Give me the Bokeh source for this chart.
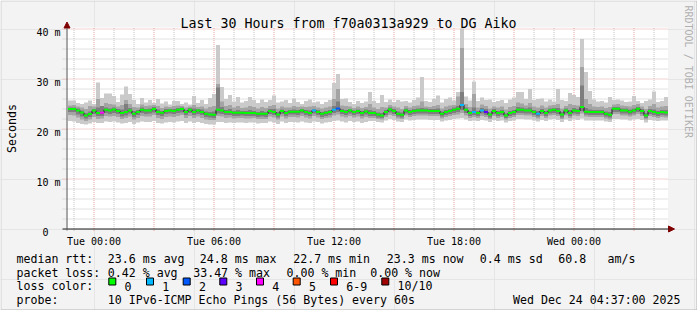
from math import pi
from bokeh.plotting import figure
from bokeh.models import Range1d, Arrow, NormalHead, ColumnDataSource
from bokeh.core.properties import value
from bokeh.embed import file_html
from bokeh.resources import INLINE

# ---------------- data ----------------
T0 = -1.3          # left edge of the graph, hours relative to Tue 00:00
BIN = 0.2          # hours per column (12 min)
SPAN = 30.0        # hours shown
YMAX = 40.0        # upper limit (ms)

# median rtt per column (ms)
med = [
    24.0, 24.0, 23.7, 23.3, 22.7, 23.0, 23.7, 23.2, 23.25, 23.85,
    23.7, 23.9, 23.6, 23.2, 23.4, 23.7, 23.05, 23.4, 23.85, 23.7,
    23.7, 24.0, 23.4, 23.25, 23.6, 23.7, 23.6, 23.85, 24.0, 23.4,
    23.85, 23.4, 23.7, 23.4, 23.05, 22.9, 22.85, 23.85, 23.7, 23.4,
    23.4, 23.25, 23.25, 23.25, 23.2, 23.2, 23.2, 23.05, 23.05, 23.05,
    23.6, 23.4, 22.9, 23.6, 23.2, 23.45, 23.45, 23.45, 23.7, 23.4,
    23.2, 23.7, 23.4, 23.05, 23.25, 23.4, 23.85, 24.1, 23.6, 23.4,
    23.7, 23.4, 23.6, 23.2, 23.5, 23.2, 23.2, 22.9, 22.7, 23.4,
    23.9, 23.6, 23.05, 22.85, 23.7, 23.4, 23.6, 23.7, 23.7, 23.7,
    23.6, 23.6, 23.6, 23.05, 23.4, 23.6, 23.85, 24.05, 24.8, 23.85,
    23.2, 23.4, 23.2, 23.7, 23.4, 22.9, 23.6, 23.2, 23.4, 22.7,
    23.2, 23.4, 23.85, 23.85, 23.7, 23.7, 23.4, 23.05, 23.6, 23.2,
    23.7, 23.85, 23.6, 22.9, 23.7, 23.2, 23.7, 23.6, 24.4, 23.45,
    23.4, 23.4, 23.4, 23.4, 23.05, 22.85, 24.05, 24.05, 23.7, 23.7,
    23.45, 23.7, 24.05, 23.6, 22.7, 23.6, 23.4, 23.2, 23.4, 23.3,
]

# smoke: highest ping per column (ms)
smax = [
    25.7, 25.7, 25.2, 25.0, 25.3, 25.7, 25.0, 29.3, 26.2, 27.1,
    27.1, 26.6, 25.4, 26.9, 28.5, 27.0, 25.8, 25.0, 26.2, 25.3,
    25.8, 25.2, 26.0, 25.1, 25.5, 24.9, 25.6, 25.6, 25.0, 25.3,
    24.9, 26.6, 25.2, 25.8, 25.0, 26.2, 27.0, 36.8, 28.4, 26.0,
    26.8, 25.5, 26.4, 25.3, 25.6, 26.4, 25.8, 25.2, 25.9, 25.4,
    25.8, 26.7, 25.3, 25.5, 25.8, 25.2, 26.1, 25.4, 25.0, 25.6,
    25.9, 25.3, 25.5, 25.0, 25.4, 25.8, 29.2, 31.0, 26.0, 26.1,
    25.4, 25.0, 25.6, 25.2, 25.5, 27.4, 25.6, 25.2, 26.8, 25.4,
    25.9, 25.4, 25.8, 25.5, 25.6, 25.3, 25.8, 26.3, 30.4, 25.6,
    25.4, 26.0, 26.7, 25.3, 26.0, 26.3, 25.7, 27.4, 40.1, 26.5,
    25.7, 29.5, 25.6, 26.3, 25.8, 25.9, 25.4, 25.6, 25.8, 25.2,
    25.9, 26.3, 27.4, 27.4, 26.0, 28.0, 25.8, 26.0, 26.1, 25.5,
    25.9, 25.5, 28.0, 25.8, 25.6, 27.2, 26.8, 26.4, 38.0, 31.4,
    27.6, 25.9, 25.5, 25.6, 25.3, 26.4, 25.8, 25.9, 25.7, 25.4,
    25.5, 26.6, 25.6, 25.2, 25.6, 25.9, 27.5, 25.4, 25.6, 26.4,
]

# smoke: upper edge of the middle band (ms)
shi = [
    24.7, 24.8, 24.5, 24.3, 24.0, 24.6, 24.5, 26.0, 24.6, 25.2,
    25.0, 24.9, 24.5, 24.8, 25.8, 25.0, 24.4, 24.3, 24.9, 24.6,
    24.7, 24.8, 24.6, 24.2, 24.5, 24.4, 24.6, 24.7, 24.6, 24.3,
    24.5, 24.8, 24.4, 24.5, 24.1, 24.4, 24.6, 29.0, 25.5, 24.6,
    24.8, 24.3, 24.6, 24.2, 24.3, 24.6, 24.4, 24.1, 24.4, 24.2,
    24.6, 24.8, 24.1, 24.5, 24.3, 24.3, 24.6, 24.4, 24.5, 24.4,
    24.5, 24.6, 24.3, 24.1, 24.3, 24.5, 26.0, 28.0, 24.7, 24.6,
    24.5, 24.2, 24.5, 24.2, 24.4, 25.0, 24.3, 24.0, 24.4, 24.3,
    24.8, 24.5, 24.3, 24.0, 24.6, 24.3, 24.6, 24.7, 25.5, 24.5,
    24.4, 24.6, 24.8, 24.1, 24.5, 24.7, 24.8, 26.5, 36.2, 25.0,
    24.4, 27.0, 24.3, 24.9, 24.6, 24.1, 24.5, 24.3, 24.5, 23.9,
    24.4, 24.6, 25.3, 25.1, 24.7, 25.2, 24.5, 24.3, 24.7, 24.3,
    24.7, 24.8, 25.0, 24.1, 24.6, 25.0, 24.8, 24.7, 32.4, 26.0,
    25.0, 24.5, 24.4, 24.5, 24.2, 24.4, 24.9, 25.0, 24.7, 24.6,
    24.5, 24.8, 25.0, 24.5, 24.0, 24.6, 25.0, 24.3, 24.5, 24.6,
]

# smoke: lower edge of the middle band (ms)
slo = [
    22.8, 22.7, 22.3, 21.9, 21.6, 21.9, 22.4, 22.0, 22.1, 22.6,
    22.5, 22.6, 22.4, 22.0, 22.2, 22.5, 21.9, 22.2, 22.6, 22.5,
    22.5, 22.8, 22.2, 22.0, 22.4, 22.5, 22.4, 22.6, 22.8, 22.2,
    22.6, 22.2, 22.5, 22.2, 21.9, 21.8, 21.8, 22.6, 22.5, 22.2,
    22.3, 22.1, 22.2, 22.2, 22.1, 22.1, 22.2, 22.0, 22.0, 22.0,
    22.5, 22.3, 21.9, 22.5, 22.1, 22.4, 22.4, 22.3, 22.6, 22.3,
    22.1, 22.6, 22.3, 22.0, 22.2, 22.3, 22.7, 22.9, 22.5, 22.3,
    22.6, 22.3, 22.5, 22.1, 22.4, 22.2, 22.2, 22.0, 21.9, 22.4,
    22.8, 22.6, 22.1, 22.0, 22.7, 22.4, 22.6, 22.7, 22.7, 22.7,
    22.6, 22.6, 22.6, 22.1, 22.4, 22.6, 22.8, 22.9, 23.2, 22.7,
    22.2, 22.4, 22.2, 22.6, 22.4, 22.0, 22.6, 22.2, 22.4, 21.9,
    22.2, 22.4, 22.8, 22.8, 22.7, 22.7, 22.4, 22.1, 22.6, 22.2,
    22.7, 22.8, 22.6, 22.0, 22.7, 22.2, 22.7, 22.6, 23.1, 22.5,
    22.4, 22.4, 22.4, 22.4, 22.1, 21.9, 23.0, 23.0, 22.7, 22.7,
    22.5, 22.7, 23.0, 22.6, 21.9, 22.6, 22.4, 22.2, 22.4, 22.3,
]

# smoke: lowest ping per column (ms)
smin = [
    21.6, 21.5, 21.2, 21.0, 20.9, 21.1, 21.4, 21.2, 21.2, 21.5,
    21.4, 21.5, 21.3, 21.1, 21.2, 21.4, 21.0, 21.3, 21.5, 21.4,
    21.4, 21.6, 21.2, 21.1, 21.3, 21.4, 21.3, 21.5, 21.6, 21.2,
    21.5, 21.2, 21.4, 21.2, 21.0, 20.9, 20.9, 21.4, 21.4, 21.2,
    21.3, 21.2, 21.3, 21.3, 21.2, 21.3, 21.3, 21.1, 21.2, 21.2,
    21.5, 21.3, 21.0, 21.5, 21.2, 21.4, 21.4, 21.3, 21.5, 21.3,
    21.2, 21.5, 21.4, 21.1, 21.3, 21.4, 21.6, 21.7, 21.5, 21.3,
    21.6, 21.4, 21.5, 21.2, 21.4, 21.6, 21.6, 21.4, 21.3, 21.7,
    22.0, 21.8, 21.5, 21.4, 21.9, 21.7, 21.8, 21.9, 21.9, 21.9,
    21.8, 21.8, 21.8, 21.5, 21.7, 21.8, 22.0, 22.1, 22.2, 21.9,
    21.6, 21.7, 21.6, 21.8, 21.7, 21.4, 21.8, 21.6, 21.7, 21.3,
    21.6, 21.7, 22.0, 22.0, 21.9, 21.9, 21.7, 21.5, 21.8, 21.6,
    21.9, 22.0, 21.8, 21.4, 21.9, 21.6, 21.9, 21.8, 22.1, 21.7,
    21.7, 21.7, 21.7, 21.7, 21.5, 21.4, 22.0, 22.0, 21.9, 21.9,
    21.7, 21.9, 22.0, 21.8, 21.3, 21.8, 21.7, 21.6, 21.7, 21.7,
]

# smoke: dark core around the median (ms)
dhi = [
    24.3, 24.3, 24.1, 23.7, 23.2, 23.5, 24.0, 24.3, 24.6, 24.3,
    24.1, 24.3, 24.0, 23.9, 25.0, 24.2, 23.6, 23.8, 24.3, 24.0,
    24.1, 24.4, 23.9, 23.6, 24.0, 24.0, 24.0, 24.2, 24.3, 23.8,
    24.2, 24.1, 24.0, 23.9, 23.5, 23.4, 23.5, 28.3, 24.4, 23.8,
    24.0, 23.6, 23.8, 23.6, 23.6, 23.8, 23.6, 23.4, 23.6, 23.4,
    24.0, 24.0, 23.4, 23.9, 23.6, 23.8, 23.9, 23.8, 24.0, 23.8,
    23.7, 24.0, 23.8, 23.4, 23.6, 23.8, 24.6, 25.5, 24.0, 23.8,
    24.0, 23.7, 23.9, 23.6, 23.9, 23.8, 23.6, 23.3, 23.2, 23.8,
    24.3, 24.0, 23.5, 23.3, 24.1, 23.8, 24.0, 24.1, 24.2, 24.1,
    24.0, 24.0, 24.1, 23.5, 23.8, 24.0, 24.3, 24.6, 27.4, 24.3,
    23.6, 24.3, 23.6, 24.2, 24.0, 23.3, 24.0, 23.6, 23.8, 23.1,
    23.6, 23.8, 24.4, 24.3, 24.1, 24.3, 23.8, 23.6, 24.0, 23.6,
    24.1, 24.2, 24.2, 23.4, 24.1, 23.8, 24.2, 24.0, 28.7, 24.2,
    23.9, 23.8, 23.8, 23.8, 23.5, 23.4, 24.4, 24.4, 24.1, 24.1,
    23.9, 24.1, 24.4, 24.0, 23.2, 24.0, 23.9, 23.6, 23.8, 23.8,
]
dlo = [
    23.4, 23.4, 22.9, 22.5, 22.1, 22.4, 23.0, 22.6, 22.6, 23.2,
    23.0, 23.2, 23.0, 22.5, 22.7, 23.1, 22.4, 22.8, 23.2, 23.0,
    23.1, 23.3, 22.8, 22.6, 23.0, 23.1, 23.0, 23.2, 23.3, 22.8,
    23.2, 22.8, 23.0, 22.8, 22.4, 22.3, 22.2, 23.1, 23.0, 22.8,
    22.8, 22.6, 22.6, 22.7, 22.6, 22.6, 22.6, 22.4, 22.5, 22.4,
    23.0, 22.8, 22.3, 23.0, 22.6, 22.9, 22.9, 22.8, 23.1, 22.8,
    22.6, 23.1, 22.8, 22.4, 22.6, 22.8, 23.2, 23.4, 23.0, 22.8,
    23.1, 22.8, 23.0, 22.6, 22.9, 22.6, 22.6, 22.3, 22.2, 22.8,
    23.3, 23.0, 22.5, 22.3, 23.1, 22.8, 23.0, 23.1, 23.1, 23.1,
    23.0, 23.0, 23.0, 22.5, 22.8, 23.0, 23.2, 23.4, 23.8, 23.2,
    22.6, 22.8, 22.6, 23.1, 22.8, 22.3, 23.0, 22.6, 22.8, 22.2,
    22.6, 22.8, 23.2, 23.2, 23.1, 23.1, 22.8, 22.5, 23.0, 22.6,
    23.1, 23.2, 23.0, 22.3, 23.1, 22.6, 23.1, 23.0, 23.6, 22.9,
    22.8, 22.8, 22.8, 22.8, 22.5, 22.3, 23.4, 23.4, 23.1, 23.1,
    22.9, 23.1, 23.4, 23.0, 22.2, 23.0, 22.8, 22.6, 22.8, 22.7,
]

# lost pings (out of 10) per column
loss = [
    0, 0, 0, 0, 0, 0, 0, 0, 4, 0,
    0, 0, 0, 0, 0, 0, 0, 0, 0, 0,
    0, 0, 0, 0, 0, 0, 0, 0, 0, 0,
    0, 0, 0, 0, 0, 0, 0, 0, 0, 0,
    0, 0, 0, 0, 0, 0, 0, 0, 0, 0,
    0, 0, 0, 0, 0, 0, 0, 0, 0, 0,
    0, 1, 0, 0, 0, 0, 1, 2, 0, 0,
    0, 0, 0, 0, 0, 0, 0, 0, 0, 0,
    0, 0, 0, 0, 0, 0, 0, 0, 0, 0,
    0, 0, 0, 0, 0, 0, 0, 0, 1, 0,
    0, 1, 0, 1, 3, 0, 0, 0, 0, 0,
    0, 0, 0, 0, 0, 0, 0, 1, 0, 0,
    0, 0, 0, 0, 0, 0, 0, 0, 0, 0,
    0, 0, 0, 0, 0, 0, 0, 0, 0, 0,
    0, 0, 0, 0, 0, 0, 0, 0, 0, 0,
]

loss_labels = ["0", "1", "2", "3", "4", "5", "6-9", "10/10"]
loss_colors = ["#00ff00", "#00b8ff", "#0059ff", "#5e00ff",
               "#ff00ff", "#ff5500", "#ff0000", "#a10000"]

y_ticks = [0, 10, 20, 30, 40]
y_minor = [2, 4, 6, 8, 12, 14, 16, 18, 22, 24, 26, 28, 32, 34, 36, 38]
y_labels = ["0\u00a0\u00a0", "10 m", "20 m", "30 m", "40 m"]
x_major = [0, 3, 6, 9, 12, 15, 18, 21, 24, 27]
x_minor = [-1, 1, 2, 4, 5, 7, 8, 10, 11, 13, 14, 16, 17, 19, 20, 22, 23, 25, 26, 28]
x_label_ticks = [0, 6, 12, 18, 24]
x_labels = ["Tue 00:00", "Tue 06:00", "Tue 12:00", "Tue 18:00", "Wed 00:00"]

title = "Last 30 Hours from f70a0313a929 to DG Aiko"
y_title = "Seconds"
brand = "RRDTOOL / TOBI OETIKER"
row1 = ["median rtt:", "23.6 ms avg", "24.8 ms max", "22.7 ms min",
        "23.3 ms now", "0.4 ms sd", "60.8", "am/s"]
row2 = ["packet loss:", "0.42 % avg", "33.47 % max", "0.00 % min", "0.00 % now"]
row3 = "loss color:"
row4 = ["probe:", "10 IPv6-ICMP Echo Pings (56 Bytes) every 60s"]
stamp = "Wed Dec 24 04:37:00 2025"

# ---------------- layout (canvas pixels) ----------------
W, H = 697, 310
PX_H = 20.0        # pixels per hour
PX_MS = 5.0        # pixels per ms
GL = 67            # graph left edge (px)
ZERO = 228.5       # pixel row centre of the 0 ms line
XS = T0 - (GL + 0.5) / PX_H
XE = XS + W / PX_H
YE = ZERO / PX_MS
YS = YE - H / PX_MS


def X(cx):
    return XS + cx / PX_H


def Y(cy):
    return (ZERO - cy) / PX_MS


p = figure(width=W, height=H, output_backend="svg", toolbar_location=None,
           x_range=Range1d(XS, XE), y_range=Range1d(YS, YE),
           x_axis_location=None, y_axis_location=None, min_border=0,
           background_fill_color="#f3f3f3", border_fill_color="#f3f3f3")
p.outline_line_color = None

MONO = value("DejaVu Sans Mono")
MINOR_C = "#c4c4c4"
MAJOR_C = "#e6a4a4"

# white canvas of the graph
p.quad(left=[T0], right=[T0 + SPAN], bottom=[0], top=[Y(27)],
       fill_color="white", line_color=None)

# grid
p.segment(x0=[X(62)] * len(y_minor), x1=[T0 + SPAN] * len(y_minor),
          y0=y_minor, y1=y_minor, line_color=MINOR_C, line_dash="1 1", line_width=1)
p.segment(x0=x_minor, x1=x_minor, y0=[Y(230.5)] * len(x_minor),
          y1=[Y(27)] * len(x_minor), line_color=MINOR_C, line_dash="1 1", line_width=1)
p.segment(x0=[X(62)] * 4, x1=[T0 + SPAN] * 4, y0=y_ticks[1:], y1=y_ticks[1:],
          line_color=MAJOR_C, line_dash="1 1", line_width=1)
p.segment(x0=x_major, x1=x_major, y0=[Y(230.5)] * len(x_major),
          y1=[Y(27)] * len(x_major), line_color=MAJOR_C, line_dash="1 1", line_width=1)

# smoke
n = len(med)
left = [T0 + BIN * i for i in range(n)]
right = [l + BIN for l in left]
center = [l + BIN / 2 for l in left]


def lc(k):
    if k <= 5:
        return loss_colors[k]
    if k < 10:
        return loss_colors[6]
    return loss_colors[7]


src = ColumnDataSource(dict(left=left, right=right, center=center, med=med,
                            smax=smax, shi=shi, slo=slo, smin=smin,
                            dhi=dhi, dlo=dlo, col=[lc(k) for k in loss]))

p.quad(left="left", right="right", bottom="smin", top="smax", source=src,
       fill_color="#cacaca", line_color=None)
p.quad(left="left", right="right", bottom="slo", top="shi", source=src,
       fill_color="#a4a4a4", line_color=None)
p.quad(left="left", right="right", bottom="dlo", top="dhi", source=src,
       fill_color="#7e7e7e", line_color=None)

# median line coloured by loss
p.step(x=left + [right[-1]], y=med + [med[-1]], mode="after",
       line_color="#202020", line_width=1)
p.rect(x="center", y="med", width=BIN, height=2, height_units="screen",
       source=src, fill_color="col", line_color=None)

# axes with arrow heads
p.add_layout(Arrow(x_start=X(62), y_start=0, x_end=X(674), y_end=0,
                   line_color="#1a1a1a", line_width=1,
                   end=NormalHead(size=6, fill_color="#7f0000", line_color="#7f0000")))
p.add_layout(Arrow(x_start=X(66.5), y_start=Y(230), x_end=X(66.5), y_end=Y(21.5),
                   line_color="#5a5a5a", line_width=1,
                   end=NormalHead(size=6, fill_color="#7f0000", line_color="#7f0000")))

# tick labels
p.text(x=[X(60)] * len(y_ticks), y=[t - 3.6 / PX_MS for t in y_ticks], text=y_labels,
       text_font=MONO, text_font_size=value("10px"), text_align="right",
       text_baseline="alphabetic", text_color="#000000")
p.text(x=x_label_ticks, y=[Y(240.5)] * len(x_label_ticks), text=x_labels,
       text_font=MONO, text_font_size=value("10px"), text_align="center",
       text_baseline="alphabetic", text_color="#000000")


def txt(texts, xs, cy, size="11.6px", align="left", angle=0.0, color="#000000",
        baseline="alphabetic"):
    p.text(x=[X(c) for c in xs], y=[Y(cy)] * len(xs), text=texts, angle=angle,
           text_font=MONO, text_font_size=value(size), text_align=align,
           text_baseline=baseline, text_color=color)


txt([title], [348], 23.3, size="13.3px", align="center")
txt([y_title], [11.5], 128, align="center", angle=pi / 2, baseline="middle")
txt([brand], [688], 5, size="10px", align="left", angle=-pi / 2,
    baseline="middle", color="#b0b0b0")

txt(row1, [16, 107.3, 199.3, 292.7, 386.3, 479.3, 557.7, 607], 258.3)
txt(row2, [16, 107.3, 192.7, 286, 369.7], 272)
txt([row3], [16], 285.7)
box_x = [108.3, 146, 182.7, 219.3, 256, 292.7, 330, 381.3]
p.rect(x=[X(b + 3.5) for b in box_x], y=[Y(281)] * len(box_x), width=7, height=7,
       width_units="screen", height_units="screen", fill_color=loss_colors,
       line_color="#000000", line_width=1)
txt(loss_labels, [b + 15.7 for b in box_x], 285.7)
txt(row4, [16, 107.3], 299.4)
txt([stamp], [680], 299.4, align="right")

# thin 3-D frame of the image
p.segment(x0=[X(0.5), X(0.5)], y0=[Y(0.5), Y(0.5)], x1=[X(0.5), X(696.5)],
          y1=[Y(309.5), Y(0.5)], line_color="#d2d2d2", line_width=1)
p.segment(x0=[X(696.5), X(0.5)], y0=[Y(0.5), Y(309.5)], x1=[X(696.5), X(696.5)],
          y1=[Y(309.5), Y(309.5)], line_color="#b4b4b4", line_width=1)

open("out.html", "w").write(file_html(p, INLINE))
